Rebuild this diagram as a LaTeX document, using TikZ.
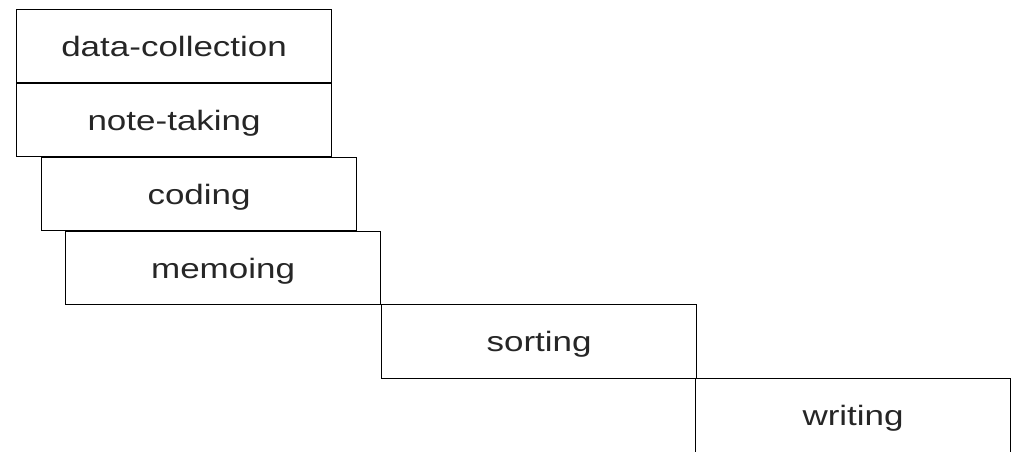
\documentclass[tikz,border=0pt]{standalone}
\usepackage{fontspec}
\newfontfamily\boxfont[FakeStretch=1.25]{Liberation Sans}
\begin{document}
\begin{tikzpicture}[x=1pt,y=-1pt,
  stagebox/.style={draw=black, line width=1.2pt, rectangle, anchor=north west,
    minimum width=315pt, minimum height=73.5pt, inner sep=0pt,
    text height=21pt, text depth=0pt,
    font=\boxfont\fontsize{28}{32}\selectfont, text=black!85}]
\useasboundingbox (0,0) rectangle (1015,452);
\node[stagebox] (dc) at (16,9) {data-collection};
\node[stagebox] (nt) at (16,82.5) {note-taking};
\node[stagebox] (cd) at (41,156.5) {coding};
\node[stagebox] (mm) at (65,230.5) {memoing};
\node[stagebox] (st) at (381,304) {sorting};
\node[stagebox] (wr) at (695,378) {writing};
\end{tikzpicture}
\end{document}
